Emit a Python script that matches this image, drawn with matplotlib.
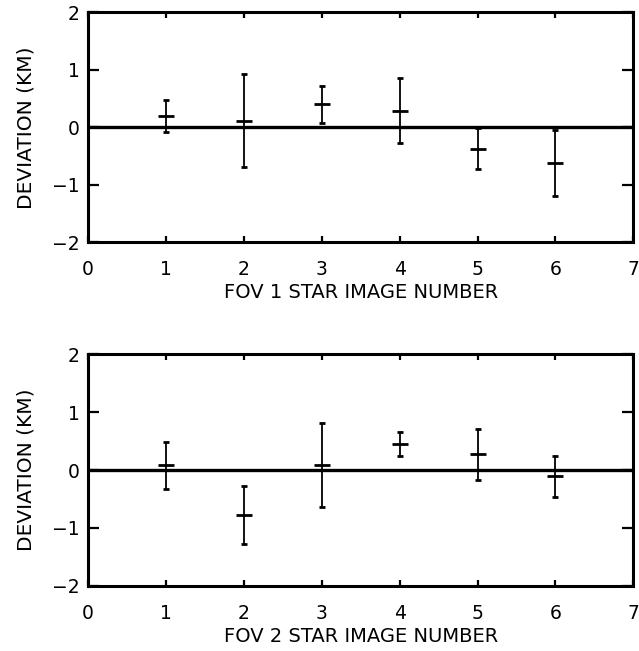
import numpy as np
import matplotlib
matplotlib.use('Agg')
import matplotlib.pyplot as plt

# star image numbers and deviations (km)
image_num = [1, 2, 3, 4, 5, 6]
fov1_dev = [0.20, 0.11, 0.40, 0.29, -0.37, -0.62]
fov1_err = [0.28, 0.81, 0.32, 0.56, 0.35, 0.57]
fov2_dev = [0.08, -0.77, 0.09, 0.45, 0.27, -0.11]
fov2_err = [0.41, 0.50, 0.73, 0.21, 0.44, 0.36]
xlabels = ['FOV 1 STAR IMAGE NUMBER', 'FOV 2 STAR IMAGE NUMBER']

plt.rcParams['font.family'] = ['DejaVu Sans']

fig = plt.figure(figsize=(6.39, 6.51), dpi=100)
ax1 = fig.add_axes([0.138, 0.628, 0.853, 0.353])
ax2 = fig.add_axes([0.138, 0.100, 0.853, 0.356])

for ax, dev, err, lab in [(ax1, fov1_dev, fov1_err, xlabels[0]),
                          (ax2, fov2_dev, fov2_err, xlabels[1])]:
    ax.axhline(0, color='black', lw=2.4, zorder=1)
    ax.errorbar(image_num, dev, yerr=err, fmt='_', color='black',
                ms=12, mew=2.0, elinewidth=1.3, capsize=2, capthick=2.0,
                zorder=3)
    ax.set_xlim(0, 7)
    ax.set_ylim(-2, 2)
    ax.set_xticks(range(0, 8))
    ax.set_yticks([-2, -1, 0, 1, 2])
    ax.set_yticklabels(['\u22122', '\u22121', '0', '1', '2'])
    ax.tick_params(axis='both', direction='in', labelsize=13.5, width=1.6,
                   top=True, right=True)
    ax.tick_params(axis='y', length=8, pad=6)
    ax.tick_params(axis='x', length=4, pad=13)
    for sp in ax.spines.values():
        sp.set_linewidth(2.2)
    ax.set_xlabel(lab, fontsize=14, labelpad=3)
    ax.set_ylabel('DEVIATION (KM)', fontsize=14.5, labelpad=12)

fig.savefig('out.png', dpi=100)
